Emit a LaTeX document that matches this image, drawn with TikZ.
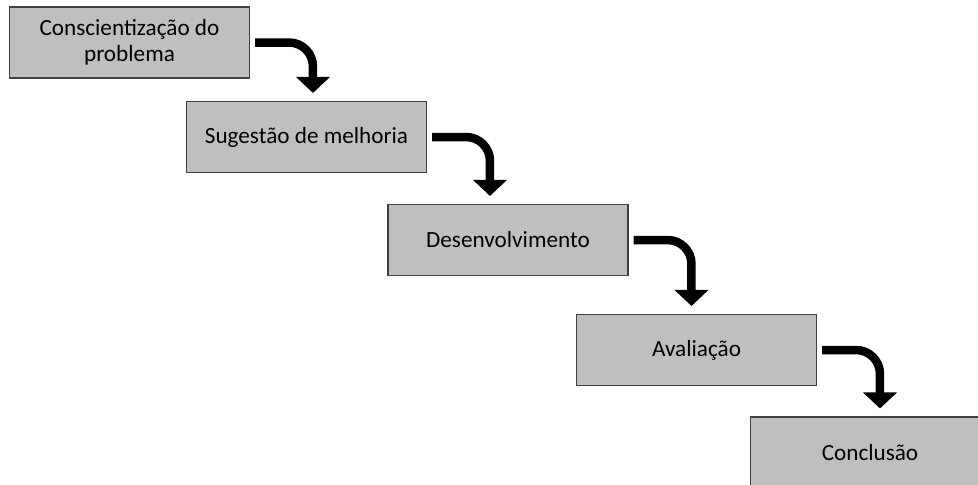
\documentclass[tikz,border=0pt]{standalone}
\usepackage{fontspec}
\setmainfont{Carlito}
\usetikzlibrary{arrows.meta}
\begin{document}
\begin{tikzpicture}[x=0.02cm,y=-0.02cm,
	etapa/.style={draw=black!75,line width=0.6pt,fill=black!25,minimum width=4.8cm,minimum height=1.42cm,align=center,inner sep=0pt,font=\fontsize{13.2}{15}\selectfont},
	seta/.style={line width=0.17cm,rounded corners=0.48cm,-{Triangle[width=0.66cm,length=0.32cm]}}]
	\useasboundingbox (0,0) rectangle (978,484);
	\node [etapa] (consc) at (129.5,42.5) {Conscientização do\\problema};
	\node [etapa] (sug) at (306.5,137) {Sugestão de melhoria};
	\node [etapa] (desenv) at (508,240) {Desenvolvimento};
	\node [etapa] (aval) at (696.5,350) {Avaliação};
	\node [etapa] (concl) at (870,452.5) {Conclusão};
	\foreach \a/\b in {consc/sug, sug/desenv, desenv/aval, aval/concl} {
		\draw [seta] ([xshift=0.1cm]\a.east) -| ([xshift=1.26cm,yshift=0.16cm]\a.east |- \b.north);
	}
\end{tikzpicture}
\end{document}
